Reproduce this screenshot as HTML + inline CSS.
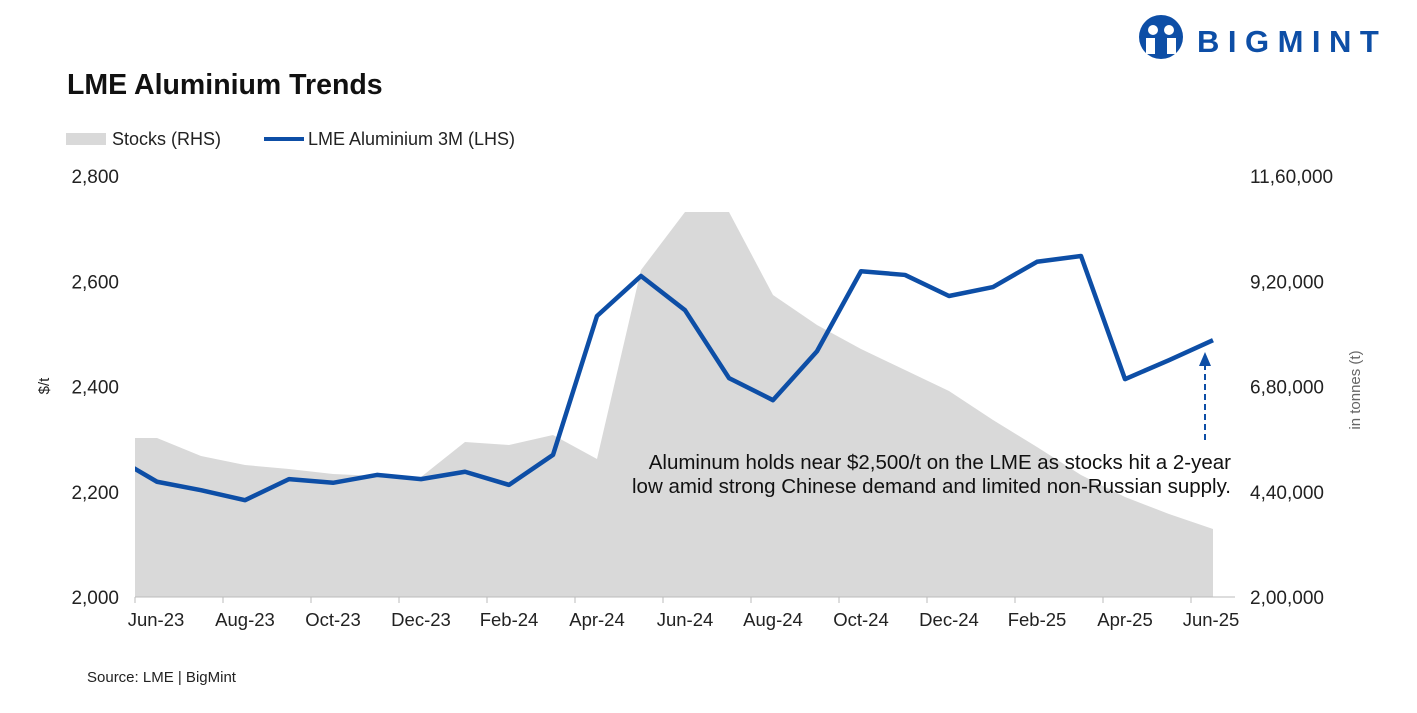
<!DOCTYPE html>
<html><head><meta charset="utf-8"><style>
body{margin:0;background:#fff;width:1417px;height:708px;overflow:hidden;font-family:"Liberation Sans",Arial,sans-serif;}
svg text{font-family:"Liberation Sans",Arial,sans-serif;}
</style></head><body>
<svg id="chart" width="1417" height="708" xmlns="http://www.w3.org/2000/svg">
<g>
<circle cx="1161" cy="37" r="22" fill="#0d4ea6"/>
<circle cx="1153" cy="30" r="5" fill="#fff"/><circle cx="1169" cy="30" r="5" fill="#fff"/>
<path d="M1146 38 h9 v16 h-9z M1167 38 h9 v16 h-9z" fill="#fff"/>
<text x="1197" y="52" font-size="31" font-weight="bold" fill="#0d4ea6" letter-spacing="8.5">BIGMINT</text>
</g>
<text x="67" y="94" font-size="28.5" font-weight="bold" fill="#111">LME Aluminium Trends</text>
<g>
<rect x="66" y="133" width="40" height="12" fill="#d9d9d9"/>
<text x="112" y="145" font-size="18" fill="#222">Stocks (RHS)</text>
<line x1="264" y1="139" x2="304" y2="139" stroke="#0d4ea6" stroke-width="4"/>
<text x="308" y="145" font-size="18" fill="#222">LME Aluminium 3M (LHS)</text>
</g>
<defs><clipPath id="pc"><rect x="135" y="150" width="1100" height="448"/></clipPath></defs>
<g id="area" clip-path="url(#pc)"></g>
<g id="axes"></g>
<g id="line" clip-path="url(#pc)"></g>
<text transform="translate(49,386) rotate(-90)" text-anchor="middle" font-size="15" fill="#222">$/t</text>
<text transform="translate(1360,390) rotate(-90)" text-anchor="middle" font-size="15" fill="#666">in tonnes (t)</text>
<g>
<line x1="1205" y1="440" x2="1205" y2="362" stroke="#0d4ea6" stroke-width="2" stroke-dasharray="6,4"/>
<path d="M1199 366 L1205 352 L1211 366 Z" fill="#0d4ea6"/>
<text x="1231" y="469" text-anchor="end" font-size="20.5" fill="#111">Aluminum holds near $2,500/t on the LME as stocks hit a 2-year</text>
<text x="1231" y="493" text-anchor="end" font-size="20.5" fill="#111">low amid strong Chinese demand and limited non-Russian supply.</text>
</g>
<text x="87" y="682" font-size="15" fill="#222">Source: LME | BigMint</text>
</svg>
<script>
const categories=["May-23","Jun-23","Jul-23","Aug-23","Sep-23","Oct-23","Nov-23","Dec-23","Jan-24","Feb-24","Mar-24","Apr-24","May-24","Jun-24","Jul-24","Aug-24","Sep-24","Oct-24","Nov-24","Dec-24","Jan-25","Feb-25","Mar-25","Apr-25","May-25","Jun-25"];
const priceValues=[2268,2219,2203,2184,2224,2217,2232,2224,2238,2213,2270,2534,2610,2545,2416,2374,2467,2619,2612,2572,2589,2637,2648,2414,2450,2488];
const stockValues=[562600,562600,521500,501000,491900,480500,475900,473600,553400,546600,569400,514700,945700,1077900,1077900,888700,820200,765500,717600,669700,603600,542000,478200,428000,389300,355100];
const leftTicks=[2000,2200,2400,2600,2800];
const leftTickLabels=["2,000","2,200","2,400","2,600","2,800"];
const rightTicks=[200000,440000,680000,920000,1160000];
const rightTickLabels=["2,00,000","4,40,000","6,80,000","9,20,000","11,60,000"];
const NS="http://www.w3.org/2000/svg";
const xS=i=>157+44*(i-1);
const yL=v=>597-(v-2000)*(421/800);
const yR=v=>597-(v-200000)*(421/960000);
function mk(tag,attrs,parent){const e=document.createElementNS(NS,tag);for(const k in attrs)e.setAttribute(k,attrs[k]);document.getElementById(parent).appendChild(e);return e;}
let d="M"+xS(0)+" 597";
stockValues.forEach((v,i)=>{d+=" L"+xS(i)+" "+yR(v);});
d+=" L"+xS(stockValues.length-1)+" 597 Z";
const ar=mk("path",{d:d,fill:"#d9d9d9"},"area");


const pts=priceValues.map((v,i)=>xS(i)+","+yL(v)).join(" ");
const ln=mk("polyline",{points:pts,fill:"none",stroke:"#0d4ea6","stroke-width":4.5,"stroke-linejoin":"round"},"line");


const ax=mk("line",{x1:135,y1:597,x2:1235,y2:597,stroke:"#bbb","stroke-width":1},"axes");


leftTicks.forEach((v,i)=>{
 const t=mk("text",{x:119,y:yL(v)+7,"text-anchor":"end","font-size":19,fill:"#222"},"axes");
 t.textContent=leftTickLabels[i];
 
 
});
rightTicks.forEach((v,i)=>{
 const t=mk("text",{x:1250,y:yR(v)+7,"font-size":19,fill:"#222"},"axes");
 t.textContent=rightTickLabels[i];
 
 
});
for(let i=1;i<categories.length;i++){
 if((i-1)%2===0){
  const tk=mk("line",{x1:xS(i)-22,y1:597,x2:xS(i)-22,y2:603,stroke:"#bbb"},"axes");
  
  
  let cx=xS(i); if(i===1) cx=156; if(i===categories.length-1) cx=1211;
  const t=mk("text",{x:cx,y:626,"text-anchor":"middle","font-size":18.5,fill:"#222"},"axes");
  t.textContent=categories[i];
  
  
 }
}
</script>
</body></html>
